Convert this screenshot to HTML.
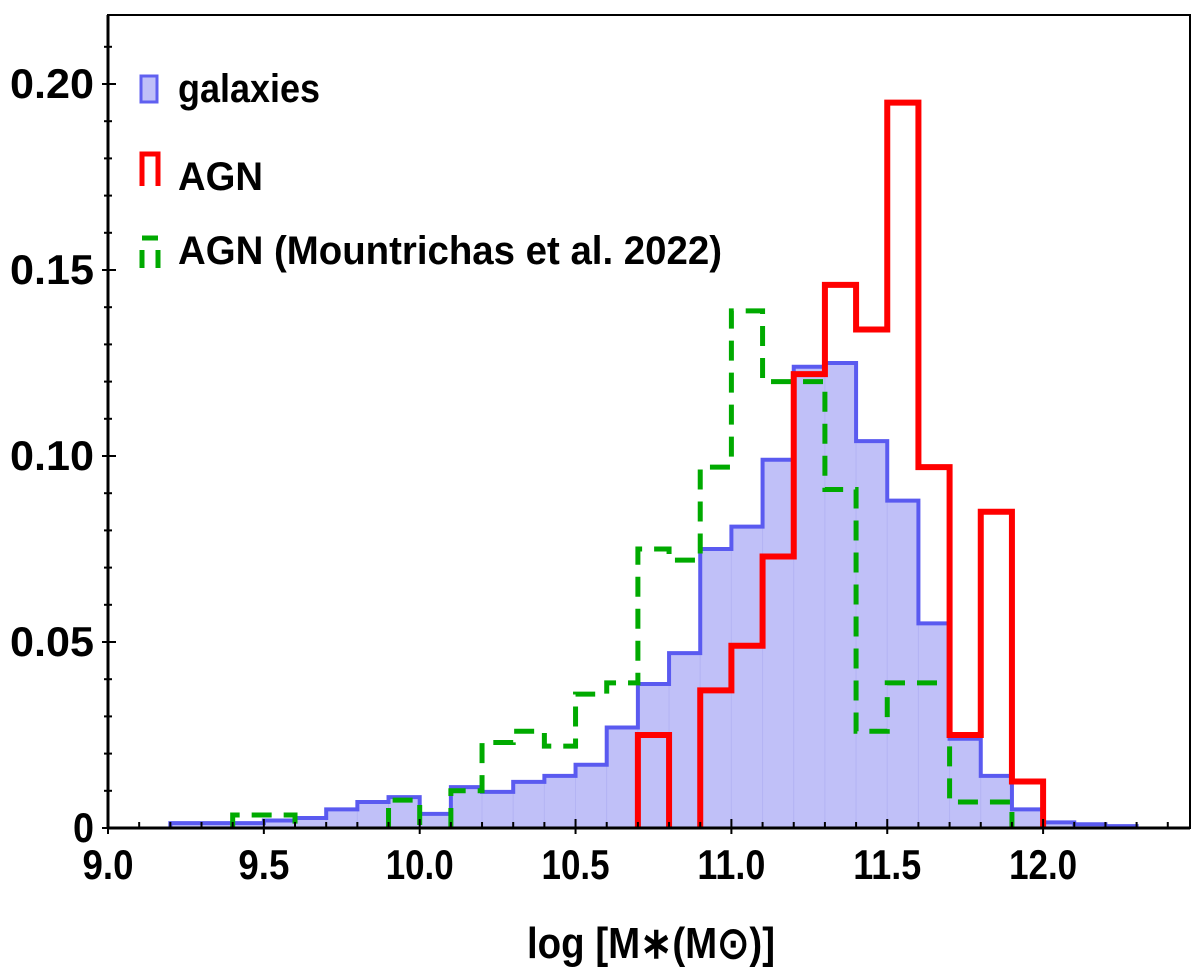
<!DOCTYPE html>
<html><head><meta charset="utf-8"><style>
body{margin:0;background:#fff}
svg text{font-family:"Liberation Sans Narrow","Liberation Sans",sans-serif;font-weight:bold;fill:#000}
</style></head><body>
<svg id="chart" width="1200" height="975" xmlns="http://www.w3.org/2000/svg">
<g id="marks"></g>
<g id="axes"></g>
<g id="legend">
 <g>
  <rect x="141" y="76" width="16" height="26" fill="#c0c0f8" stroke="#6060f0" stroke-width="3"/>
  <text x="178" y="102" font-size="40" textLength="142" lengthAdjust="spacingAndGlyphs">galaxies</text></g>
 <g>
  <path d="M142,186 V154 H158 V186" fill="none" stroke="#f00" stroke-width="5"/>
  <text x="178" y="190" font-size="40" textLength="85" lengthAdjust="spacingAndGlyphs">AGN</text></g>
 <g>
  <path d="M142,268 V250 M142,238 H158 M158,250 V268" fill="none" stroke="#0a0" stroke-width="5"/>
  <text x="178" y="264" font-size="40" textLength="544" lengthAdjust="spacingAndGlyphs">AGN (Mountrichas et al. 2022)</text></g>
</g>
</svg>
<script>
const binStart = 9.2, binWidth = 0.1;
const galaxies = [0.0013,0.0013,0.0013,0.002,0.0027,0.005,0.007,0.0083,0.0038,0.011,0.0097,0.0124,0.014,0.017,0.027,0.0387,0.047,0.075,0.081,0.099,0.124,0.125,0.104,0.088,0.055,0.024,0.014,0.005,0.0015,0.001,0.0005];
const agnStart = 10.7;
const agn = [0.025,0,0.037,0.049,0.073,0.122,0.146,0.134,0.195,0.097,0.025,0.085,0.0125];
const mountStart = 9.4;
const mount = [0.0035,0.0035,0,0,0,0.0075,0,0.01,0.023,0.026,0.022,0.036,0.039,0.075,0.072,0.097,0.139,0.12,0.12,0.091,0.026,0.039,0.039,0.007,0.007];
const xTicks = ["9.0","9.5","10.0","10.5","11.0","11.5","12.0"];
const yTicks = ["0","0.05","0.10","0.15","0.20"];

const X0=108,X1=1190,Y0=828,Y1=15;
const xs=v=>108+(v-9)*311.7;
const ys=v=>828-v*3720;
const NS="http://www.w3.org/2000/svg";
function mk(tag,attrs,parent){const e=document.createElementNS(NS,tag);for(const k in attrs)e.setAttribute(k,attrs[k]);parent.appendChild(e);return e;}
const marks=document.getElementById('marks'), axes=document.getElementById('axes');

function stepPath(start,vals){
  let d='', prev=0;
  vals.forEach((v,i)=>{
    const a=xs(start+i*binWidth),b=xs(start+(i+1)*binWidth);
    if(v>0){
      if(prev>0) d+=' L'+a+','+ys(v);
      else d+=' M'+a+','+ys(0)+' L'+a+','+ys(v);
      d+=' L'+b+','+ys(v);
    } else if(prev>0){ d+=' L'+a+','+ys(0); }
    prev=v;
  });
  if(prev>0) d+=' L'+xs(start+vals.length*binWidth)+','+ys(0);
  return d.trim();
}
galaxies.forEach((v,i)=>{
  const r=mk('rect',{x:xs(binStart+i*binWidth),y:ys(v),width:xs(binWidth+9)-xs(9),height:ys(0)-ys(v),fill:'#c0c0f8',stroke:'#b4b4f4','stroke-width':1},marks);
  
  
});
const gp=mk('path',{d:stepPath(binStart,galaxies),fill:'none',stroke:'#5a5af0','stroke-width':4},marks);


const mp=mk('path',{d:stepPath(mountStart,mount),fill:'none',stroke:'#00aa00','stroke-width':5,'stroke-dasharray':'20,12'},marks);


const ap=mk('path',{d:stepPath(agnStart,agn),fill:'none',stroke:'#f00','stroke-width':6},marks);



const fr=mk('rect',{x:X0,y:Y1,width:X1-X0,height:Y0-Y1,fill:'none',stroke:'#000','stroke-width':2},axes);


const xa=mk('line',{x1:X0,y1:Y0,x2:X1,y2:Y0,stroke:'#000','stroke-width':3},axes);


const ya=mk('line',{x1:X0,y1:Y0,x2:X0,y2:Y1,stroke:'#000','stroke-width':3},axes);


for(let k=0;k<=34;k++){const v=9+k*0.1,x=xs(v),maj=k%5==0;
  mk('line',{x1:x,y1:Y0,x2:x,y2:Y0-(maj?9:6),stroke:'#000','stroke-width':2},axes);
  if(maj) mk('line',{x1:x,y1:Y0,x2:x,y2:Y0+6,stroke:'#000','stroke-width':2},axes);}
for(let k=0;k<=21;k++){const y=ys(k*0.01),maj=k%5==0;
  mk('line',{x1:X0-(maj?6:4),y1:y,x2:X0+(maj?8:4),y2:y,stroke:'#000','stroke-width':2},axes);}
xTicks.forEach(t=>{const e=mk('text',{x:xs(parseFloat(t)),y:879,'font-size':42,'text-anchor':'middle',textLength:(t.length*17),lengthAdjust:'spacingAndGlyphs'},axes);e.textContent=t;
  
  });
yTicks.forEach(t=>{const e=mk('text',{x:94,y:ys(parseFloat(t))+14,'font-size':42,'text-anchor':'end',textLength:(t.length*21),lengthAdjust:'spacingAndGlyphs'},axes);e.textContent=t;
  
  });
const xt=mk('text',{x:527,y:958,'font-size':44,textLength:248,lengthAdjust:'spacingAndGlyphs'},axes);
xt.textContent='log [M\u2217(M\u2299)]';


</script>
</body></html>
